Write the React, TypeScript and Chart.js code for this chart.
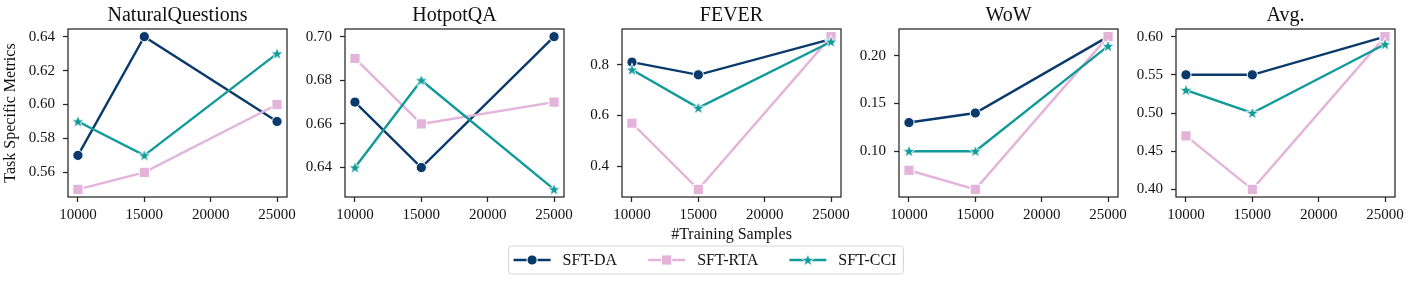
import React, { useEffect, useRef } from "react";
import { Chart, registerables } from "chart.js";

Chart.register(...registerables);

// ---------------- data ----------------
const SAMPLES = [10000, 15000, 25000];
const X_TICKS = [10000, 15000, 20000, 25000];
const PANEL_TITLES = ["NaturalQuestions", "HotpotQA", "FEVER", "WoW", "Avg."];
const SERIES_NAMES = ["SFT-DA", "SFT-RTA", "SFT-CCI"];
const SERIES_COLORS = ["#0a3a6b", "#e4b3da", "#119a9a"];
const Y_LABEL = "Task Specific Metrics";
const X_LABEL = "#Training Samples";

const NQ_DA = [0.57, 0.64, 0.59];
const NQ_RTA = [0.55, 0.56, 0.6];
const NQ_CCI = [0.59, 0.57, 0.63];

const HOTPOT_DA = [0.67, 0.64, 0.7];
const HOTPOT_RTA = [0.69, 0.66, 0.67];
const HOTPOT_CCI = [0.64, 0.68, 0.63];

const FEVER_DA = [0.81, 0.76, 0.9];
const FEVER_RTA = [0.57, 0.31, 0.91];
const FEVER_CCI = [0.78, 0.63, 0.89];

const WOW_DA = [0.13, 0.14, 0.22];
const WOW_RTA = [0.08, 0.06, 0.22];
const WOW_CCI = [0.1, 0.1, 0.21];

const AVG_DA = [0.55, 0.55, 0.6];
const AVG_RTA = [0.47, 0.4, 0.6];
const AVG_CCI = [0.53, 0.5, 0.59];

const NQ_Y_TICKS = ["0.56", "0.58", "0.60", "0.62", "0.64"];
const HOTPOT_Y_TICKS = ["0.64", "0.66", "0.68", "0.70"];
const FEVER_Y_TICKS = ["0.4", "0.6", "0.8"];
const WOW_Y_TICKS = ["0.10", "0.15", "0.20"];
const AVG_Y_TICKS = ["0.40", "0.45", "0.50", "0.55", "0.60"];

const PANEL_DATA = [
  [NQ_DA, NQ_RTA, NQ_CCI],
  [HOTPOT_DA, HOTPOT_RTA, HOTPOT_CCI],
  [FEVER_DA, FEVER_RTA, FEVER_CCI],
  [WOW_DA, WOW_RTA, WOW_CCI],
  [AVG_DA, AVG_RTA, AVG_CCI],
];
const PANEL_Y_TICKS = [NQ_Y_TICKS, HOTPOT_Y_TICKS, FEVER_Y_TICKS, WOW_Y_TICKS, AVG_Y_TICKS];

// ---------------- layout / style ----------------
const W = 1412;
const H = 283;
const PANEL_LEFT = [68, 345, 622, 899, 1176];
const PANEL_W = 219;
const PLOT_TOP = 29;
const PLOT_BOTTOM = 197;
const X_AXIS_H = 48;
const Y_AXIS_W = 60;
const FONT = "'Liberation Serif', 'Times New Roman', Times, serif";
const SPINE = "#262626";
const TEXT = "#111111";
const LINE_W = 2.4;
const CIRCLE_R = 5.1;
const SQUARE_HALF = 5.1;
const STAR_R = 7;

function makeStar(color: string): HTMLCanvasElement {
  const c = document.createElement("canvas");
  c.width = 18;
  c.height = 18;
  const g = c.getContext("2d")!;
  const r = STAR_R * 0.382;
  g.beginPath();
  for (let k = 0; k < 10; k++) {
    const ang = -Math.PI / 2 + (k * Math.PI) / 5;
    const rad = k % 2 === 0 ? STAR_R : r;
    g.lineTo(9 + rad * Math.cos(ang), 9.4 + rad * Math.sin(ang));
  }
  g.closePath();
  g.fillStyle = color;
  g.fill();
  g.strokeStyle = "#ffffff";
  g.lineWidth = 0.9;
  g.stroke();
  return c;
}

function drawMarker(ctx: CanvasRenderingContext2D, style: any, x: number, y: number, color: string) {
  ctx.save();
  if (style === "circle") {
    ctx.beginPath();
    ctx.arc(x, y, CIRCLE_R, 0, Math.PI * 2);
    ctx.fillStyle = color;
    ctx.fill();
    ctx.strokeStyle = "#fff";
    ctx.lineWidth = 1;
    ctx.stroke();
  } else if (style === "rect") {
    const s = SQUARE_HALF;
    ctx.fillStyle = color;
    ctx.fillRect(x - s, y - s, 2 * s, 2 * s);
    ctx.strokeStyle = "#fff";
    ctx.lineWidth = 1;
    ctx.strokeRect(x - s, y - s, 2 * s, 2 * s);
  } else if (style instanceof HTMLCanvasElement) {
    ctx.drawImage(style, x - style.width / 2, y - style.height / 2);
  }
  ctx.restore();
}

const panelDecor = {
  id: "panelDecor",
  afterDatasetsDraw(chart: any, _args: any, opts: any) {
    const { ctx, chartArea } = chart;
    const { left, right, top, bottom } = chartArea;
    ctx.save();
    ctx.strokeStyle = SPINE;
    ctx.lineWidth = 1.25;
    ctx.strokeRect(left, top, right - left, bottom - top);
    ctx.fillStyle = TEXT;
    ctx.font = `20px ${FONT}`;
    ctx.textAlign = "center";
    ctx.textBaseline = "alphabetic";
    ctx.fillText(opts.title, (left + right) / 2, top - 8.5);

    if (opts.legend) {
      const ds = chart.data.datasets;
      ctx.font = `16px ${FONT}`;
      const handle = 37;
      const gap = 12;
      const colSp = 31;
      const padL = 5;
      const padR = 7;
      const widths = SERIES_NAMES.map((n) => ctx.measureText(n).width);
      let total = padL + padR + colSp * (SERIES_NAMES.length - 1);
      widths.forEach((w) => (total += handle + gap + w));
      const x0 = W / 2 - total / 2;
      const boxTop = 246;
      const boxH = 28;
      const cy = boxTop + boxH / 2;
      ctx.beginPath();
      const rr = 3;
      ctx.moveTo(x0 + rr, boxTop);
      ctx.lineTo(x0 + total - rr, boxTop);
      ctx.arcTo(x0 + total, boxTop, x0 + total, boxTop + rr, rr);
      ctx.lineTo(x0 + total, boxTop + boxH - rr);
      ctx.arcTo(x0 + total, boxTop + boxH, x0 + total - rr, boxTop + boxH, rr);
      ctx.lineTo(x0 + rr, boxTop + boxH);
      ctx.arcTo(x0, boxTop + boxH, x0, boxTop + boxH - rr, rr);
      ctx.lineTo(x0, boxTop + rr);
      ctx.arcTo(x0, boxTop, x0 + rr, boxTop, rr);
      ctx.closePath();
      ctx.fillStyle = "#ffffff";
      ctx.fill();
      ctx.strokeStyle = "#d4d4d4";
      ctx.lineWidth = 1;
      ctx.stroke();

      let x = x0 + padL;
      SERIES_NAMES.forEach((name, k) => {
        const d = ds[k];
        ctx.strokeStyle = d.borderColor;
        ctx.lineWidth = LINE_W;
        ctx.beginPath();
        ctx.moveTo(x, cy);
        ctx.lineTo(x + handle, cy);
        ctx.stroke();
        drawMarker(ctx, d.pointStyle, x + handle / 2, cy, d.borderColor);
        ctx.fillStyle = TEXT;
        ctx.textAlign = "left";
        ctx.textBaseline = "alphabetic";
        ctx.fillText(name, x + handle + gap, cy + 5);
        x += handle + gap + widths[k] + colSp;
      });
    }
    ctx.restore();
  },
};

function buildConfig(i: number, star: HTMLCanvasElement): any {
  const series = PANEL_DATA[i];
  const all = series.flat();
  const dmin = Math.min(...all);
  const dmax = Math.max(...all);
  const m = (dmax - dmin) * 0.05;
  const xm = (SAMPLES[SAMPLES.length - 1] - SAMPLES[0]) * 0.05;
  const L = PANEL_LEFT[i];
  const yW = i === 0 ? L : Y_AXIS_W;
  const yTicks = PANEL_Y_TICKS[i];
  const styles = ["circle", "rect", star];
  const radii = [CIRCLE_R, SQUARE_HALF * Math.SQRT2, STAR_R];

  return {
    type: "line",
    data: {
      datasets: series.map((vals, k) => ({
        label: SERIES_NAMES[k],
        data: SAMPLES.map((s, j) => ({ x: s, y: vals[j] })),
        borderColor: SERIES_COLORS[k],
        backgroundColor: SERIES_COLORS[k],
        borderWidth: LINE_W,
        tension: 0,
        pointStyle: styles[k],
        pointRadius: radii[k],
        pointBackgroundColor: SERIES_COLORS[k],
        pointBorderColor: "#ffffff",
        pointBorderWidth: 1,
        order: 3 - k,
      })),
    },
    options: {
      responsive: false,
      animation: false,
      events: [],
      layout: {
        padding: {
          left: L - yW,
          right: W - (L + PANEL_W),
          top: PLOT_TOP,
          bottom: H - PLOT_BOTTOM - X_AXIS_H,
        },
      },
      plugins: {
        legend: { display: false },
        tooltip: { enabled: false },
        title: { display: false },
        panelDecor: { title: PANEL_TITLES[i], legend: i === 0 },
      },
      scales: {
        x: {
          type: "linear",
          min: SAMPLES[0] - xm,
          max: SAMPLES[SAMPLES.length - 1] + xm,
          afterBuildTicks: (s: any) => {
            s.ticks = X_TICKS.map((v) => ({ value: v }));
          },
          afterFit: (s: any) => {
            s.height = X_AXIS_H;
          },
          grid: {
            display: true,
            drawOnChartArea: false,
            drawTicks: true,
            tickLength: 5,
            tickWidth: 1.25,
            tickColor: SPINE,
          },
          border: { display: false },
          ticks: {
            autoSkip: false,
            maxRotation: 0,
            padding: 4,
            color: TEXT,
            font: { family: FONT, size: 15 },
            callback: (v: any) => String(v),
          },
          title: {
            display: i === 2,
            text: X_LABEL,
            color: TEXT,
            font: { family: FONT, size: 16 },
            padding: { top: 0, bottom: 0.8 },
          },
        },
        y: {
          type: "linear",
          min: dmin - m,
          max: dmax + m,
          afterBuildTicks: (s: any) => {
            s.ticks = yTicks.map((t) => ({ value: parseFloat(t) }));
          },
          afterFit: (s: any) => {
            s.width = yW;
          },
          grid: {
            display: true,
            drawOnChartArea: false,
            drawTicks: true,
            tickLength: 5,
            tickWidth: 1.25,
            tickColor: SPINE,
          },
          border: { display: false },
          ticks: {
            padding: 8,
            color: TEXT,
            font: { family: FONT, size: 15 },
            callback: (v: any) => {
              const hit = yTicks.find((t) => Math.abs(parseFloat(t) - v) < 1e-9);
              return hit !== undefined ? hit : "";
            },
          },
          title: {
            display: i === 0,
            text: Y_LABEL,
            color: TEXT,
            font: { family: FONT, size: 16 },
            padding: { top: 1.5, bottom: 0 },
          },
        },
      },
    },
    plugins: [panelDecor],
  };
}

export default function App() {
  const refs = useRef<(HTMLCanvasElement | null)[]>([]);

  useEffect(() => {
    const star = makeStar(SERIES_COLORS[2]);
    const charts = PANEL_TITLES.map((_, i) => new Chart(refs.current[i] as HTMLCanvasElement, buildConfig(i, star)));
    return () => charts.forEach((c) => c.destroy());
  }, []);

  return (
    <div style={{ position: "absolute", left: 0, top: 0, width: W, height: H, background: "#ffffff" }}>
      {PANEL_TITLES.map((t, i) => (
        <canvas
          key={t}
          ref={(el) => {
            refs.current[i] = el;
          }}
          width={W}
          height={H}
          style={{ position: "absolute", left: 0, top: 0, width: W, height: H }}
        />
      ))}
    </div>
  );
}
